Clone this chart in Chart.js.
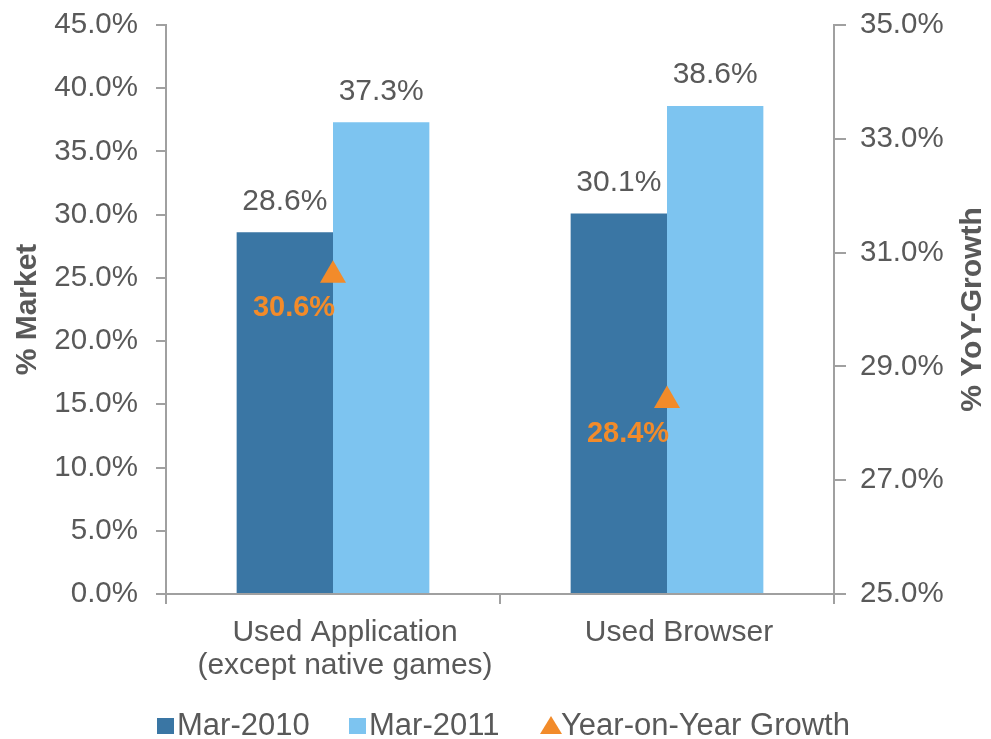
<!DOCTYPE html>
<html>
<head>
<meta charset="utf-8">
<script src="https://cdn.jsdelivr.net/npm/chart.js@4/dist/chart.umd.min.js"></script>
<style>
  html, body { margin: 0; padding: 0; background: #fff; }
  #wrap { width: 991px; height: 739px; }
</style>
</head>
<body>
<div id="wrap"><canvas id="yoyChart" width="991" height="739"></canvas></div>
<script>
const categories = [["Used Application", "(except native games)"], ["Used Browser"]];
const mar2010 = [28.6, 30.1];
const mar2011 = [37.3, 38.6];
const yoyGrowth = [30.6, 28.4];

const TEXT = '#595959';
const AXIS = '#a0a0a0';
const FONT = '"Liberation Sans", Arial, sans-serif';

const pct = v => v.toFixed(1) + '%';

// value labels + axis titles + legend, drawn after the chart
const extras = {
    id: 'extras',
    afterDatasetsDraw(chart) {
        const ctx = chart.ctx;
        ctx.save();
        ctx.textAlign = 'center';
        ctx.textBaseline = 'middle';

        ctx.font = '30px ' + FONT;
        ctx.fillStyle = TEXT;
        [0, 1].forEach(i => {
            chart.getDatasetMeta(i).data.forEach((el, j) => {
                ctx.fillText(pct(chart.data.datasets[i].data[j]), el.x, el.y - 31);
            });
        });

        ctx.font = 'bold 29px ' + FONT;
        ctx.fillStyle = '#f28b2a';
        chart.getDatasetMeta(2).data.forEach((el, j) => {
            ctx.fillText(pct(yoyGrowth[j]), el.x - 39, el.y + 33);
        });

        // axis titles, both reading bottom to top
        const midY = (chart.chartArea.top + chart.chartArea.bottom) / 2;
        ctx.font = 'bold 30px ' + FONT;
        ctx.fillStyle = TEXT;
        [[28, '% Market'], [973, '% YoY-Growth']].forEach(([x, t]) => {
            ctx.save();
            ctx.translate(x, midY);
            ctx.rotate(-Math.PI / 2);
            ctx.fillText(t, 0, 0);
            ctx.restore();
        });

        // legend
        const items = [[157, 0], [349, 1], [541, 2]];
        ctx.font = '31px ' + FONT;
        ctx.textAlign = 'left';
        items.forEach(([x, i]) => {
            const ds = chart.data.datasets[i];
            ctx.fillStyle = ds.backgroundColor;
            if (i < 2) {
                ctx.fillRect(x, 718, 17, 16);
            } else {
                ctx.beginPath();
                ctx.moveTo(x + 10, 716);
                ctx.lineTo(x + 21, 734);
                ctx.lineTo(x - 1, 734);
                ctx.closePath();
                ctx.fill();
            }
            ctx.fillStyle = TEXT;
            ctx.fillText(ds.label, x + 20, 726);
        });
        ctx.restore();
    }
};

new Chart(document.getElementById('yoyChart'), {
    type: 'bar',
    data: {
        labels: categories,
        datasets: [
            {
                label: 'Mar-2010',
                data: mar2010,
                backgroundColor: '#3a76a4',
                yAxisID: 'y',
                categoryPercentage: 0.577,
                barPercentage: 1.0,
                order: 2
            },
            {
                label: 'Mar-2011',
                data: mar2011,
                backgroundColor: '#7dc4f0',
                yAxisID: 'y',
                categoryPercentage: 0.577,
                barPercentage: 1.0,
                order: 2
            },
            {
                type: 'line',
                label: 'Year-on-Year Growth',
                data: yoyGrowth,
                yAxisID: 'y1',
                showLine: false,
                pointStyle: 'triangle',
                pointRadius: 15,
                pointHoverRadius: 15,
                backgroundColor: '#f28b2a',
                borderColor: '#f28b2a',
                borderWidth: 0,
                order: 1
            }
        ]
    },
    options: {
        responsive: false,
        animation: false,
        layout: { padding: { top: 25, left: 0, right: 0, bottom: 0 } },
        plugins: {
            legend: { display: false },
            tooltip: { enabled: false }
        },
        scales: {
            x: {
                grid: { drawOnChartArea: false, tickLength: 10, color: AXIS, lineWidth: 2, offset: true },
                border: { color: AXIS, width: 2 },
                ticks: { color: TEXT, font: { family: FONT, size: 30, lineHeight: 1.1 }, padding: 12, labelOffset: 12, maxRotation: 0 },
                afterFit(scale) { scale.height = 145; }
            },
            y: {
                position: 'left',
                min: 0,
                max: 45,
                ticks: { stepSize: 5, color: TEXT, font: { family: FONT, size: 29.5 }, padding: 18, callback: v => pct(v) },
                grid: { drawOnChartArea: false, tickLength: 10, color: AXIS, lineWidth: 2 },
                border: { color: AXIS, width: 2 },
                afterFit(scale) { scale.width = 166; scale.paddingTop = 0; scale.paddingBottom = 0; }
            },
            y1: {
                position: 'right',
                min: 25,
                max: 35,
                ticks: { stepSize: 2, color: TEXT, font: { family: FONT, size: 29.5 }, padding: 14, callback: v => pct(v) },
                grid: { drawOnChartArea: false, tickLength: 12, color: AXIS, lineWidth: 2 },
                border: { color: AXIS, width: 2 },
                afterFit(scale) { scale.width = 157; scale.paddingTop = 0; scale.paddingBottom = 0; }
            }
        }
    },
    plugins: [extras]
});
</script>
</body>
</html>
